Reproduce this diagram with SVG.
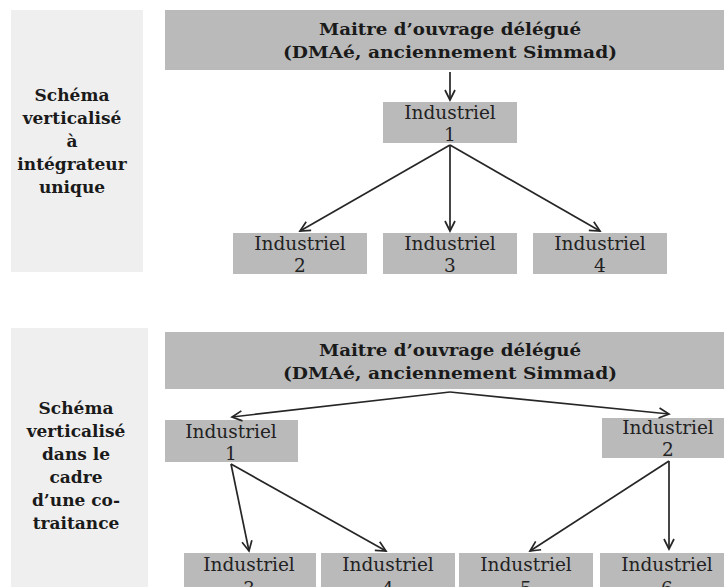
<svg xmlns="http://www.w3.org/2000/svg" width="724" height="587" viewBox="0 0 724 587">
<style>
.panel{fill:#efefef}
.box{fill:#bababa}
.hd{font-family:"DejaVu Serif","Liberation Serif",serif;font-weight:bold;font-size:17px;fill:#1a1a1a;text-anchor:middle}
.side{font-family:"DejaVu Serif","Liberation Serif",serif;font-weight:bold;font-size:17px;fill:#1a1a1a;text-anchor:middle}
.lb{font-family:"DejaVu Serif","Liberation Serif",serif;font-size:18.5px;fill:#222;text-anchor:middle}
.con{stroke:#262626;stroke-width:1.7;fill:none;marker-end:url(#ah)}
</style>
<defs>
<marker id="ah" markerUnits="userSpaceOnUse" markerWidth="14" markerHeight="14" refX="11" refY="6" orient="auto">
<path d="M1,1 L11,6 L1,11" fill="none" stroke="#262626" stroke-width="1.7"/>
</marker>
</defs>
<rect width="724" height="587" fill="#ffffff"/>

<g id="panel-top">
<rect class="panel" x="11" y="10" width="132" height="262"/>
<text class="side" x="72" y="101">Schéma</text>
<text class="side" x="72" y="124">verticalisé</text>
<text class="side" x="72" y="147">à</text>
<text class="side" x="72" y="170">intégrateur</text>
<text class="side" x="72" y="193">unique</text>
</g>

<g id="moa-top">
<rect class="box" x="165" y="10" width="559" height="60"/>
<text class="hd" x="450" y="35" textLength="262" lengthAdjust="spacingAndGlyphs">Maitre d’ouvrage délégué</text>
<text class="hd" x="450" y="58" textLength="334" lengthAdjust="spacingAndGlyphs">(DMAé, anciennement Simmad)</text>
</g>

<g id="t-ind1">
<rect class="box" x="383" y="102" width="134" height="41"/>
<text class="lb" x="450" y="119">Industriel</text>
<text class="lb" x="450" y="141">1</text>
</g>
<g id="t-ind2">
<rect class="box" x="233" y="233" width="134" height="41"/>
<text class="lb" x="300" y="250">Industriel</text>
<text class="lb" x="300" y="272">2</text>
</g>
<g id="t-ind3">
<rect class="box" x="383" y="233" width="134" height="41"/>
<text class="lb" x="450" y="250">Industriel</text>
<text class="lb" x="450" y="272">3</text>
</g>
<g id="t-ind4">
<rect class="box" x="533" y="233" width="134" height="41"/>
<text class="lb" x="600" y="250">Industriel</text>
<text class="lb" x="600" y="272">4</text>
</g>

<g id="panel-bottom">
<rect class="panel" x="11" y="328" width="137" height="259"/>
<text class="side" x="76" y="414">Schéma</text>
<text class="side" x="76" y="437">verticalisé</text>
<text class="side" x="76" y="460">dans le</text>
<text class="side" x="76" y="483">cadre</text>
<text class="side" x="76" y="506">d’une co-</text>
<text class="side" x="76" y="529">traitance</text>
</g>

<g id="moa-bottom">
<rect class="box" x="165" y="332" width="559" height="57"/>
<text class="hd" x="450" y="356" textLength="262" lengthAdjust="spacingAndGlyphs">Maitre d’ouvrage délégué</text>
<text class="hd" x="450" y="379" textLength="334" lengthAdjust="spacingAndGlyphs">(DMAé, anciennement Simmad)</text>
</g>

<g id="b-ind1">
<rect class="box" x="165" y="420" width="133" height="42"/>
<text class="lb" x="231" y="438">Industriel</text>
<text class="lb" x="231" y="460">1</text>
</g>
<g id="b-ind2">
<rect class="box" x="602" y="418" width="122" height="40"/>
<text class="lb" x="668" y="434">Industriel</text>
<text class="lb" x="668" y="456">2</text>
</g>
<g id="b-ind3">
<rect class="box" x="184" y="553" width="132" height="34"/>
<text class="lb" x="249" y="571">Industriel</text>
<text class="lb" x="249" y="595">3</text>
</g>
<g id="b-ind4">
<rect class="box" x="321" y="553" width="134" height="34"/>
<text class="lb" x="388" y="571">Industriel</text>
<text class="lb" x="388" y="595">4</text>
</g>
<g id="b-ind5">
<rect class="box" x="459" y="553" width="134" height="34"/>
<text class="lb" x="526" y="571">Industriel</text>
<text class="lb" x="526" y="595">5</text>
</g>
<g id="b-ind6">
<rect class="box" x="600" y="553" width="124" height="34"/>
<text class="lb" x="667" y="571">Industriel</text>
<text class="lb" x="667" y="595">6</text>
</g>

<g id="connectors">
<line class="con" x1="450" y1="72" x2="450" y2="100"/>
<line class="con" x1="450" y1="145" x2="300" y2="231"/>
<line class="con" x1="450" y1="145" x2="450" y2="231"/>
<line class="con" x1="450" y1="145" x2="600" y2="231"/>
<line class="con" x1="450" y1="392" x2="232" y2="417"/>
<line class="con" x1="450" y1="392" x2="669" y2="414"/>
<line class="con" x1="231" y1="464" x2="249" y2="551"/>
<line class="con" x1="231" y1="464" x2="386" y2="551"/>
<line class="con" x1="669" y1="461" x2="530" y2="551"/>
<line class="con" x1="669" y1="461" x2="669" y2="549"/>
</g>
</svg>
